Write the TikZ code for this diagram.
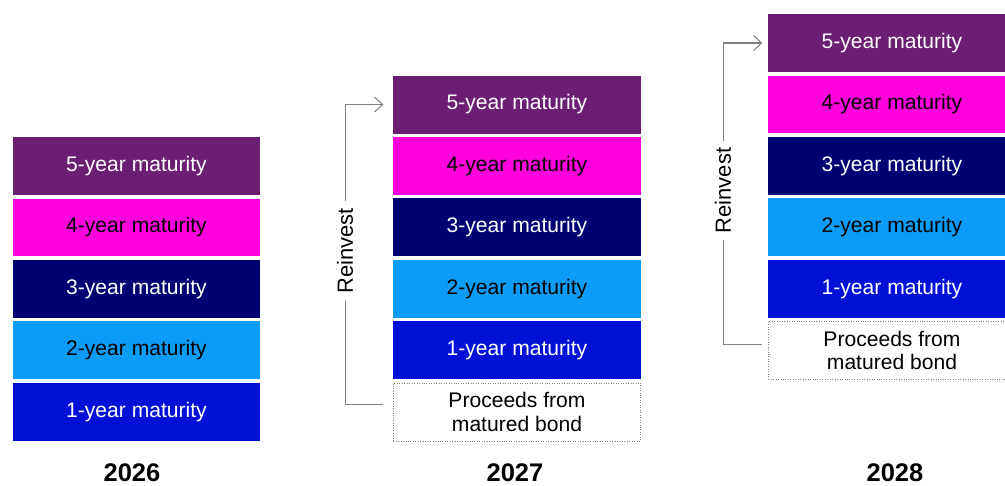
\documentclass[tikz,border=0pt]{standalone}
\usepackage{fontspec}
\setmainfont{Liberation Sans}
\usetikzlibrary{arrows.meta,positioning,calc}
\definecolor{matfive}{HTML}{6B1F73}
\definecolor{matfour}{HTML}{FF00DD}
\definecolor{matthree}{HTML}{000073}
\definecolor{mattwo}{HTML}{0A9CF7}
\definecolor{matone}{HTML}{0010D6}
\definecolor{linegray}{HTML}{808080}

\begin{document}
\begin{tikzpicture}
      [x = 0.02cm, y = -0.02cm,
      node distance = 0.07cm,
      bond/.style= {
         minimum width = 4.95cm,
         minimum height = 1.16cm,
         inner sep = 0pt,
         outer sep = 0pt,
         font = \fontsize{12}{14}\selectfont
      },
      proceeds/.style= {
         bond,
         draw = linegray,
         densely dotted,
         align = center,
         font = \fontsize{12}{13.6}\selectfont
      },
      reinvest/.style= {
         draw = linegray,
         line width = 0.6pt,
         -{Straight Barb[length = 4.5pt, width = 8.5pt]}
      },
      rlabel/.style= {
         fill = white,
         rotate = 90,
         inner sep = 4pt,
         font = \fontsize{12.5}{14}\selectfont
      },
      year/.style= {
         inner sep = 1pt,
         font = \bfseries\fontsize{14.5}{17}\selectfont
      }]

      \clip (0, 0) rectangle (1005, 485);

      % 2026
      \node[bond, fill = matfive, text = white] (a5) at (136.5, 166) {5-year maturity};
      \node[bond, fill = matfour, below = of a5] (a4) {4-year maturity};
      \node[bond, fill = matthree, text = white, below = of a4] (a3) {3-year maturity};
      \node[bond, fill = mattwo, below = of a3] (a2) {2-year maturity};
      \node[bond, fill = matone, text = white, below = of a2] (a1) {1-year maturity};
      \node[year] (ya) at (132, 473) {2026};

      % 2027
      \node[bond, fill = matfive, text = white] (b5) at (517, 104.5) {5-year maturity};
      \node[bond, fill = matfour, below = of b5] (b4) {4-year maturity};
      \node[bond, fill = matthree, text = white, below = of b4] (b3) {3-year maturity};
      \node[bond, fill = mattwo, below = of b3] (b2) {2-year maturity};
      \node[bond, fill = matone, text = white, below = of b2] (b1) {1-year maturity};
      \node[proceeds, below = of b1] (b0) {Proceeds from\\matured bond};
      \node[year] (yb) at (515, 473) {2027};

      \draw[reinvest] ($(b0.west) + (-10, -7)$) -- ++(-38, 0) |- ($(b5.west) + (-10, 0)$);
      \node[rlabel] (rb) at (345, 251) {Reinvest};

      % 2028
      \node[bond, fill = matfive, text = white] (c5) at (892, 43) {5-year maturity};
      \node[bond, fill = matfour, below = of c5] (c4) {4-year maturity};
      \node[bond, fill = matthree, text = white, below = of c4] (c3) {3-year maturity};
      \node[bond, fill = mattwo, below = of c3] (c2) {2-year maturity};
      \node[bond, fill = matone, text = white, below = of c2] (c1) {1-year maturity};
      \node[proceeds, below = of c1] (c0) {Proceeds from\\matured bond};
      \node[year] (yc) at (895, 473) {2028};

      \draw[reinvest] ($(c0.west) + (-6, -5.5)$) -- ++(-39, 0) |- ($(c5.west) + (-6, 0)$);
      \node[rlabel] (rc) at (723, 190.5) {Reinvest};

   \end{tikzpicture}
\end{document}
